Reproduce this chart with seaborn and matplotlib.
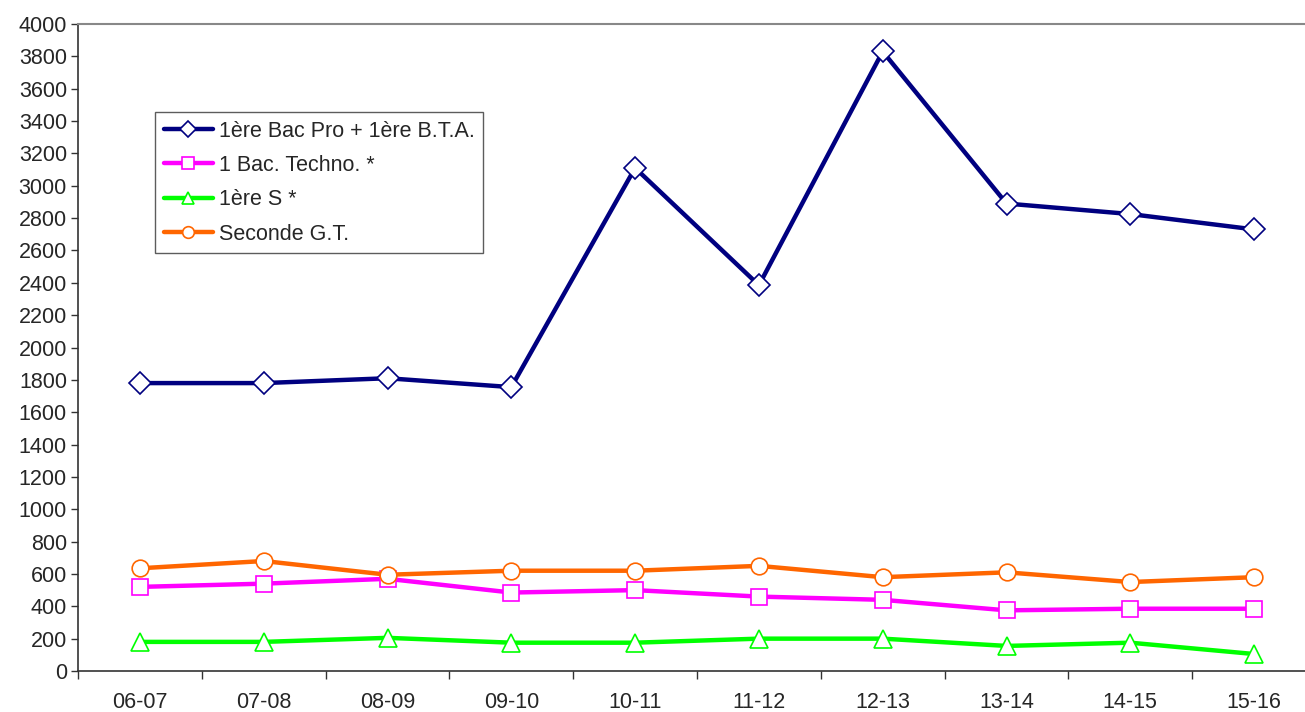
import numpy as np
import pandas as pd
import matplotlib
matplotlib.use("Agg")
import matplotlib.pyplot as plt
from matplotlib.ticker import FixedLocator
import seaborn as sns

# Data
years = ["06-07", "07-08", "08-09", "09-10", "10-11",
         "11-12", "12-13", "13-14", "14-15", "15-16"]
bac_pro = [1780, 1780, 1810, 1755, 3110, 2385, 3830, 2890, 2825, 2730]
bac_techno = [520, 540, 570, 485, 500, 460, 440, 375, 385, 385]
premiere_s = [180, 180, 205, 175, 175, 200, 200, 155, 175, 105]
seconde_gt = [635, 680, 595, 620, 620, 650, 580, 610, 550, 580]

series = [
    ("1ère Bac Pro + 1ère B.T.A.", bac_pro, "#000080", "D", 11),
    ("1 Bac. Techno. *", bac_techno, "#FF00FF", "s", 12),
    ("1ère S *", premiere_s, "#00FF00", "^", 13),
    ("Seconde G.T.", seconde_gt, "#FF6600", "o", 12),
]

sns.set_style("white")
plt.rcParams["font.family"] = ["Liberation Sans", "DejaVu Sans"]

fig = plt.figure(figsize=(13.05, 7.12), dpi=100)
ax = fig.add_axes([78 / 1305, 1 - 671 / 712, 1238 / 1305, (671 - 24) / 712])

for name, values, color, marker, msize in series:
    df = pd.DataFrame({"year": years, "value": values})
    sns.lineplot(data=df, x="year", y="value", ax=ax, color=color,
                 linewidth=3.2, marker=marker, markersize=msize,
                 markerfacecolor="white", markeredgecolor=color,
                 markeredgewidth=1.2, label=name, sort=False)

ax.set_xlim(-0.5, len(years) - 0.5)
ax.set_ylim(0, 4000)
ax.set_yticks(np.arange(0, 4001, 200))
ax.set_xlabel("")
ax.set_ylabel("")

# x ticks between categories, labels centred
ax.xaxis.set_minor_locator(FixedLocator(np.arange(-0.5, len(years), 1.0)))
ax.tick_params(axis="x", which="major", length=0, pad=15, labelsize=15.5)
ax.tick_params(axis="x", which="minor", length=6, width=1, color="#333333",
               direction="out", bottom=True)
ax.tick_params(axis="y", length=5, width=1, color="#333333", direction="out",
               left=True, labelsize=15.5, pad=3)

for side in ["left", "bottom"]:
    ax.spines[side].set_color("#333333")
    ax.spines[side].set_linewidth(1.2)
ax.spines["right"].set_visible(False)
ax.spines["top"].set_color("#888888")
ax.spines["top"].set_linewidth(1.5)

leg = ax.legend(loc="upper left", bbox_to_anchor=(77 / 1238, (671 - 112) / 647),
                frameon=True, fancybox=False, fontsize=15.5, handlelength=2.3,
                handletextpad=0.25, borderpad=0.4, labelspacing=0.62,
                borderaxespad=0, markerscale=0.7)
leg.get_frame().set_edgecolor("#333333")
leg.get_frame().set_linewidth(1)

fig.savefig("out.png", dpi=100)
